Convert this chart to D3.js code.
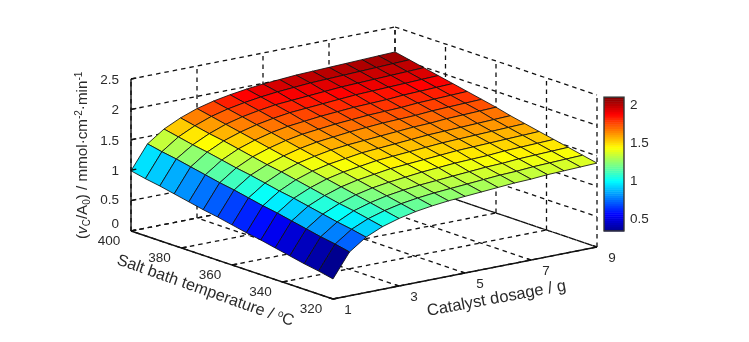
<!DOCTYPE html>
<html>
<head>
<meta charset="utf-8">
<script src="https://cdn.jsdelivr.net/npm/d3@7"></script>
<style>
  html, body { margin: 0; background: #fff; }
  svg { display: block; filter: blur(0.4px); }
  text { font-family: "Liberation Sans", Arial, sans-serif; fill: #2a2a2a; }
</style>
</head>
<body>
<svg id="chart" width="749" height="342"></svg>
<script>
const dosages = [1, 1.5, 2, 2.5, 3, 3.5, 4, 4.5, 5, 5.5, 6, 6.5, 7, 7.5, 8, 8.5, 9];
const temperatures = [320, 325.7, 331.4, 337.1, 342.9, 348.6, 354.3, 360, 365.7, 371.4, 377.1, 382.9, 388.6, 394.3, 400];

// one row per temperature, one column per dosage
const rates = [
  [0.33, 0.72, 0.91, 1.03, 1.11, 1.17, 1.21, 1.24, 1.26, 1.28, 1.30, 1.32, 1.33, 1.35, 1.36, 1.37, 1.38],
  [0.38, 0.77, 0.96, 1.08, 1.16, 1.22, 1.26, 1.29, 1.31, 1.33, 1.35, 1.37, 1.38, 1.40, 1.41, 1.42, 1.43],
  [0.42, 0.81, 1.00, 1.13, 1.21, 1.27, 1.31, 1.34, 1.36, 1.38, 1.40, 1.42, 1.43, 1.45, 1.46, 1.47, 1.48],
  [0.47, 0.86, 1.05, 1.17, 1.26, 1.32, 1.36, 1.39, 1.42, 1.44, 1.46, 1.47, 1.48, 1.50, 1.51, 1.52, 1.53],
  [0.52, 0.91, 1.10, 1.22, 1.31, 1.37, 1.41, 1.45, 1.47, 1.49, 1.51, 1.53, 1.54, 1.55, 1.56, 1.57, 1.58],
  [0.57, 0.96, 1.15, 1.27, 1.36, 1.42, 1.46, 1.50, 1.52, 1.54, 1.56, 1.58, 1.59, 1.60, 1.61, 1.62, 1.63],
  [0.61, 1.00, 1.19, 1.32, 1.41, 1.47, 1.51, 1.55, 1.57, 1.59, 1.61, 1.63, 1.64, 1.65, 1.66, 1.67, 1.68],
  [0.66, 1.05, 1.24, 1.37, 1.46, 1.52, 1.57, 1.60, 1.62, 1.64, 1.66, 1.68, 1.69, 1.71, 1.72, 1.73, 1.74],
  [0.71, 1.10, 1.29, 1.41, 1.50, 1.57, 1.62, 1.65, 1.68, 1.70, 1.72, 1.73, 1.74, 1.76, 1.77, 1.78, 1.79],
  [0.75, 1.14, 1.33, 1.46, 1.55, 1.62, 1.67, 1.70, 1.73, 1.75, 1.77, 1.78, 1.79, 1.81, 1.82, 1.83, 1.84],
  [0.80, 1.19, 1.38, 1.51, 1.60, 1.67, 1.72, 1.75, 1.78, 1.80, 1.82, 1.83, 1.84, 1.86, 1.87, 1.88, 1.89],
  [0.85, 1.24, 1.43, 1.56, 1.65, 1.72, 1.77, 1.81, 1.83, 1.85, 1.87, 1.89, 1.90, 1.91, 1.92, 1.93, 1.94],
  [0.90, 1.29, 1.47, 1.60, 1.70, 1.77, 1.82, 1.86, 1.88, 1.90, 1.92, 1.94, 1.95, 1.96, 1.97, 1.98, 1.99],
  [0.94, 1.33, 1.52, 1.65, 1.75, 1.82, 1.87, 1.91, 1.94, 1.96, 1.98, 1.99, 2.00, 2.01, 2.02, 2.03, 2.04],
  [0.99, 1.38, 1.57, 1.70, 1.80, 1.87, 1.92, 1.96, 1.99, 2.01, 2.03, 2.04, 2.05, 2.06, 2.07, 2.08, 2.09],
];

const dosageTicks = [1, 3, 5, 7, 9];
const temperatureTicks = [320, 340, 360, 380, 400];
const rateTicks = [0, 0.5, 1, 1.5, 2, 2.5];
const colorbarTicks = [0.5, 1, 1.5, 2];

const svg = d3.select('#chart');

// oblique axes: each data axis moves the screen point along its own direction
const dosageX = d3.scaleLinear().domain([1, 9]).range([0, 264]);
const dosageY = d3.scaleLinear().domain([1, 9]).range([0, -52]);
const tempX = d3.scaleLinear().domain([400, 320]).range([0, 202]);
const tempY = d3.scaleLinear().domain([400, 320]).range([0, 68]);
const rateY = d3.scaleLinear().domain([0, 2.5]).range([0, -152]);

function project(dosage, temp, rate) {
  return [
    131 + dosageX(dosage) + tempX(temp),
    231 + dosageY(dosage) + tempY(temp) + rateY(rate),
  ];
}

const cMin = 0.33, cMax = 2.09;
const jet = d3.scaleLinear()
  .domain([0, 0.125, 0.375, 0.625, 0.875, 1].map((t) => cMin + t * (cMax - cMin)))
  .range(['#00008f', '#0000ff', '#00ffff', '#ffff00', '#ff0000', '#800000'])
  .clamp(true);

function segment(g, a, b) {
  const p = project(...a), q = project(...b);
  return g.append('line')
    .attr('x1', p[0]).attr('y1', p[1])
    .attr('x2', q[0]).attr('y2', q[1]);
}

// dashed grid on floor and the two back walls
const grid = svg.append('g')
  .attr('stroke', '#111')
  .attr('stroke-width', 1.3)
  .attr('stroke-dasharray', '4.5 4');

dosageTicks.forEach((d) => {
  segment(grid, [d, 320, 0], [d, 400, 0]);
  segment(grid, [d, 400, 0], [d, 400, 2.5]);
});
temperatureTicks.forEach((t) => {
  segment(grid, [1, t, 0], [9, t, 0]);
  segment(grid, [9, t, 0], [9, t, 2.5]);
});
rateTicks.forEach((r) => {
  segment(grid, [1, 400, r], [9, 400, r]);
  segment(grid, [9, 400, r], [9, 320, r]);
});

// surface, far cells first. Cell colour comes from its low-index corner
const cells = [];
for (let j = temperatures.length - 2; j >= 0; j--) {
  for (let i = dosages.length - 2; i >= 0; i--) {
    cells.push({ i, j });
  }
}

svg.append('g').selectAll('path')
  .data(cells)
  .join('path')
  .attr('d', ({ i, j }) => {
    const corners = [[i, j], [i + 1, j], [i + 1, j + 1], [i, j + 1]];
    return d3.line()(corners.map(([a, b]) => project(dosages[a], temperatures[b], rates[b][a]))) + 'Z';
  })
  .attr('fill', ({ i, j }) => jet(rates[j][i]))
  .attr('stroke', '#111')
  .attr('stroke-width', 0.85)
  .attr('stroke-linejoin', 'round');

// solid axes
const axes = svg.append('g').attr('stroke', '#111').attr('stroke-width', 1.4);
segment(axes, [1, 400, 0], [1, 400, 2.5]);
segment(axes, [1, 400, 0], [1, 320, 0]);
segment(axes, [1, 320, 0], [9, 320, 0]);
rateTicks.forEach((r) => segment(axes, [1, 400, r], [1.16, 400, r]));
temperatureTicks.forEach((t) => segment(axes, [1, t, 0], [1.16, t, 0]));
dosageTicks.forEach((d) => segment(axes, [d, 320, 0], [d, 321.6, 0]));

// tick labels
const zeroLift = (r) => (r === 0 ? -8 : r === 0.5 ? -2 : 0);

svg.append('g').selectAll('text')
  .data(rateTicks)
  .join('text')
  .attr('x', (r) => project(1, 400, r)[0] - 12)
  .attr('y', (r) => project(1, 400, r)[1] + 5 + zeroLift(r))
  .attr('text-anchor', 'end')
  .attr('font-size', 13.5)
  .text((r) => r);

svg.append('g').selectAll('text')
  .data(temperatureTicks)
  .join('text')
  .attr('x', (t) => project(1, t, 0)[0] - 22)
  .attr('y', (t) => project(1, t, 0)[1] + 14)
  .attr('text-anchor', 'middle')
  .attr('font-size', 13.5)
  .text((t) => t);

svg.append('g').selectAll('text')
  .data(dosageTicks)
  .join('text')
  .attr('x', (d) => project(d, 320, 0)[0] + 15)
  .attr('y', (d) => project(d, 320, 0)[1] + 15)
  .attr('text-anchor', 'middle')
  .attr('font-size', 13.5)
  .text((d) => d);

// axis titles
const zTitle = svg.append('text')
  .attr('transform', 'translate(87,239) rotate(-90)')
  .attr('font-size', 15.2);
zTitle.append('tspan').text('(');
zTitle.append('tspan').attr('font-style', 'italic').text('v');
zTitle.append('tspan').attr('font-size', 10).attr('dy', 3).text('C');
zTitle.append('tspan').attr('dy', -3).text('/A');
zTitle.append('tspan').attr('font-size', 10).attr('dy', 3).text('0');
zTitle.append('tspan').attr('dy', -3).text(') / mmol·cm');
zTitle.append('tspan').attr('font-size', 10).attr('dy', -5).text('-2');
zTitle.append('tspan').attr('dy', 5).text('·min');
zTitle.append('tspan').attr('font-size', 10).attr('dy', -5).text('-1');

const tTitle = svg.append('text')
  .attr('transform', 'translate(116,264) rotate(19.5)')
  .attr('font-size', 16.2);
tTitle.append('tspan').text('Salt bath temperature / ');
tTitle.append('tspan').attr('font-size', 10).attr('dy', -5).text('o');
tTitle.append('tspan').attr('dy', 5).text('C');

svg.append('text')
  .attr('transform', 'translate(428,316) rotate(-10.5)')
  .attr('font-size', 16.5)
  .text('Catalyst dosage / g');

// colorbar
const barY = d3.scaleLinear().domain([0.5, 2]).range([218, 104]);
const barLevels = d3.range(64).map((k) => cMin + (k + 0.5) * (cMax - cMin) / 64);
svg.append('g').selectAll('rect')
  .data(barLevels)
  .join('rect')
  .attr('x', 604)
  .attr('width', 20)
  .attr('y', (c) => barY(c + (cMax - cMin) / 128))
  .attr('height', Math.abs(barY(0) - barY((cMax - cMin) / 64)) + 0.5)
  .attr('fill', (c) => jet(c));
svg.append('rect')
  .attr('x', 604).attr('y', barY(cMax))
  .attr('width', 20).attr('height', barY(cMin) - barY(cMax))
  .attr('fill', 'none').attr('stroke', '#333').attr('stroke-width', 1.4);

svg.append('g').selectAll('text')
  .data(colorbarTicks)
  .join('text')
  .attr('x', 630)
  .attr('y', (c) => barY(c) + 5)
  .attr('font-size', 13.5)
  .text((c) => c);
</script>
</body>
</html>
